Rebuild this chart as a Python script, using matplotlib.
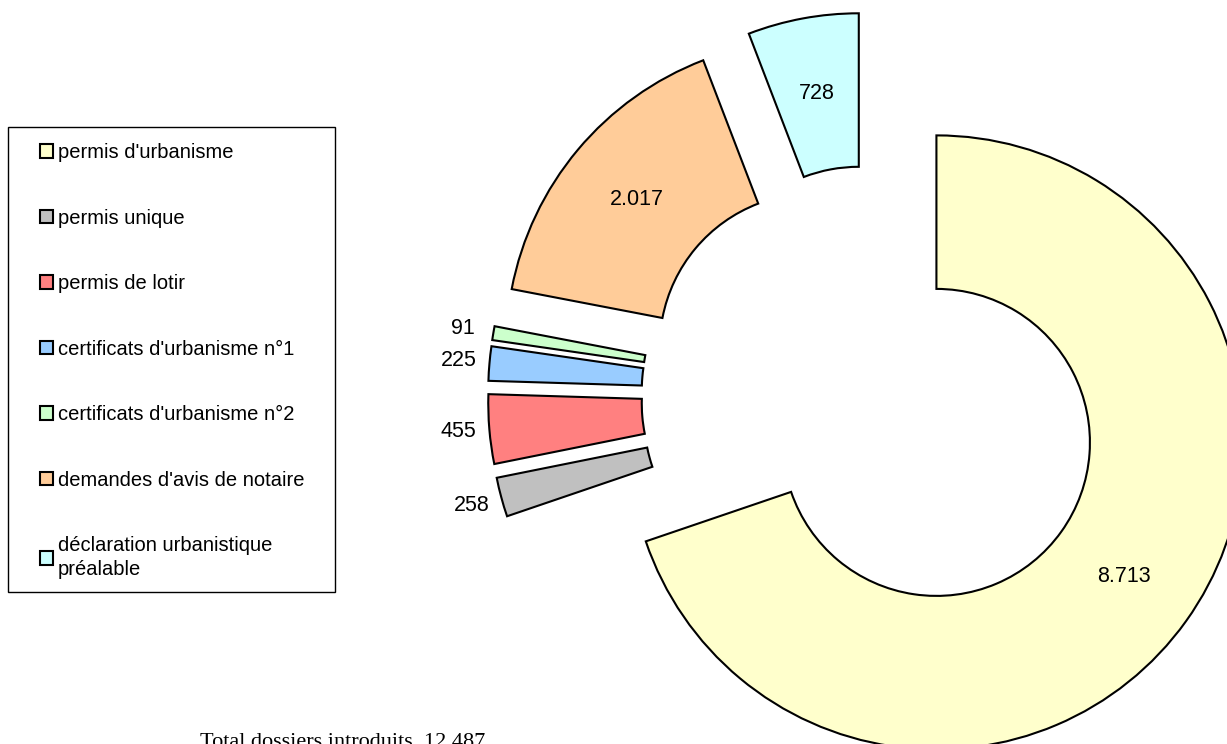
import matplotlib
matplotlib.use("Agg")
import matplotlib.pyplot as plt
from matplotlib.patches import Rectangle
import numpy as np

plt.rcParams['font.family'] = ['Liberation Sans', 'DejaVu Sans']

categories = ["permis d'urbanisme", "permis unique", "permis de lotir",
              "certificats d'urbanisme n°1", "certificats d'urbanisme n°2",
              "demandes d'avis de notaire",
              "déclaration urbanistique\npréalable"]
values = [8713, 258, 455, 225, 91, 2017, 728]
value_labels = ["8.713", "258", "455", "225", "91", "2.017", "728"]
colors = ["#FFFFCC", "#C0C0C0", "#FF8080", "#99CCFF", "#CCFFCC",
          "#FFCC99", "#CCFFFF"]
total_text = "Total dossiers introduits  12.487"

# figure in pixel units
W, H = 1227, 744
fig = plt.figure(figsize=(W / 100, H / 100), dpi=100)
ax = fig.add_axes([0, 0, 1, 1])

cx, cy = 873, H - 397
R = 307
expl = 78

wedges, _ = ax.pie(values, colors=colors, startangle=90, counterclock=False,
                   radius=R, center=(cx, cy), explode=[expl] * len(values),
                   wedgeprops=dict(width=0.5 * R, edgecolor='black', linewidth=1.5))
ax.set_xlim(0, W)
ax.set_ylim(0, H)
ax.set_aspect('auto')
ax.axis('off')

# valeurs
for w, v, lab in zip(wedges, values, value_labels):
    th = np.deg2rad((w.theta1 + w.theta2) / 2)
    x0, y0 = w.center
    r = 0.75 * R if v > 500 else 1.1 * R
    ax.text(x0 + r * np.cos(th), y0 + r * np.sin(th), lab,
            ha='center', va='center', fontsize=15.5)

# legende
fig.patches.append(Rectangle((8 / W, 1 - 592 / H), 327 / W, 465 / H,
                             transform=fig.transFigure, facecolor='white',
                             edgecolor='black', linewidth=1, zorder=0))
leg = fig.legend(wedges, categories, loc='upper left',
                 bbox_to_anchor=(40 / W, 1 - 143 / H), frameon=False,
                 fontsize=14.5, handlelength=0.65, handleheight=0.65,
                 handletextpad=0.25, labelspacing=2.31, borderpad=0,
                 borderaxespad=0)
for t in leg.get_texts():
    t.set_linespacing(1.3)

ax.text(200, H - 733, total_text, ha='left', va='top', fontsize=16,
        family='Liberation Serif')

fig.savefig("out.png", dpi=100)
